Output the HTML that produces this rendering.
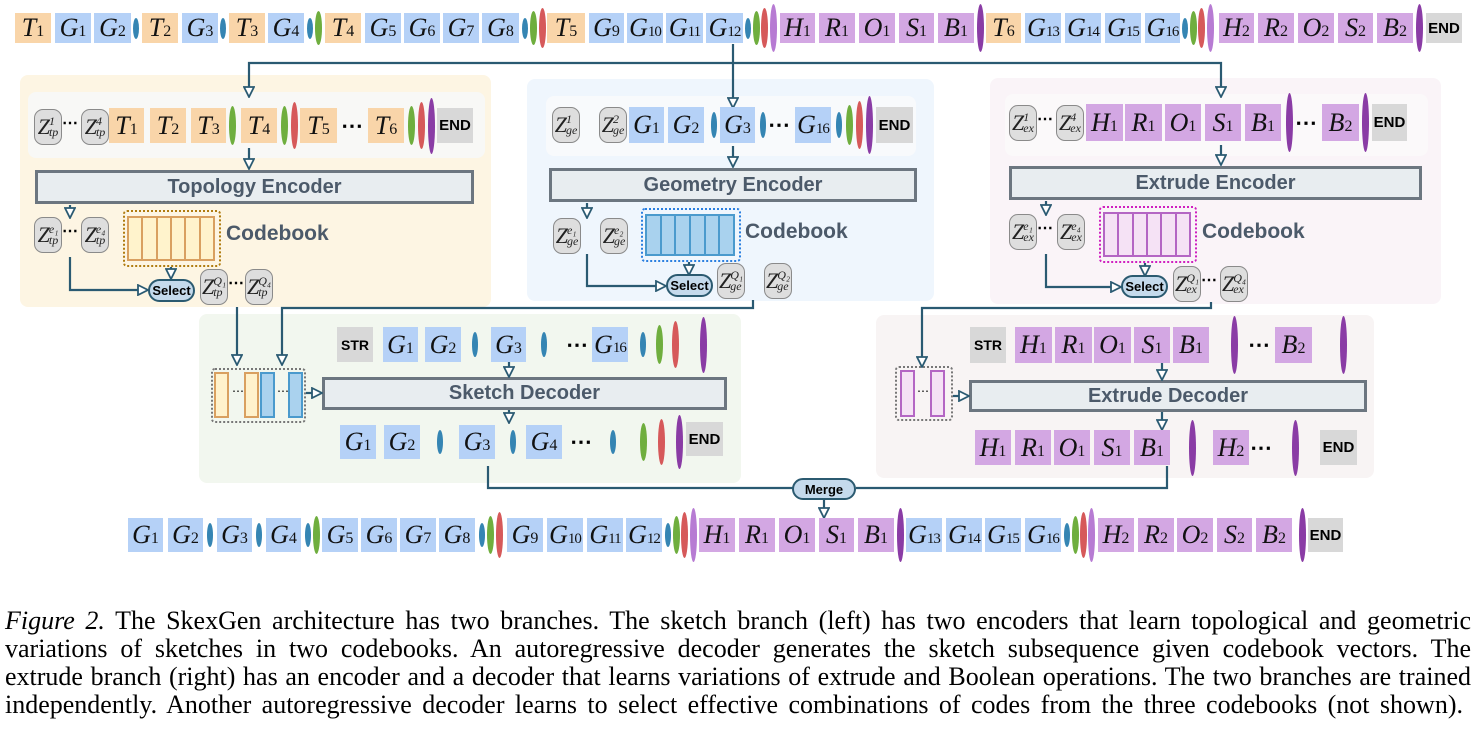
<!DOCTYPE html>
<html><head><meta charset="utf-8"><style>
*{margin:0;padding:0;box-sizing:border-box}
body{width:1478px;height:752px;background:#fff;position:relative;overflow:hidden;font-family:"Liberation Sans",sans-serif}
.a{position:absolute}
.r{position:absolute;left:0;width:1478px}
.r>*{position:absolute;top:0;height:100%}
.b{display:flex;align-items:center;justify-content:center;font:italic 26px "Liberation Serif",serif;color:#111;white-space:nowrap}
.b sub{font-style:normal;font-size:16px;position:relative;top:4px;vertical-align:baseline}
.b sub.d{letter-spacing:-1px;font-size:15px}
.t{background:#f9d5a9}.g{background:#b5d1f7}.p{background:#d3a7e3}
.e{background:#d8d8d8;font:bold 15px "Liberation Sans",sans-serif;font-style:normal;color:#000}
.eb,.eg,.er,.ep,.el{border-radius:50%;width:7px}
.eb{background:#3585b3;top:15%!important;height:70%!important;width:6px}
.eg{background:#6fae3e;top:-6%!important;height:112%!important}
.er{background:#d6595a;top:-18%!important;height:136%!important}
.ep{background:#8a3ca5;top:-30%!important;height:160%!important}
.el{background:#b77bd3;top:-30%!important;height:160%!important}
.dt{font:bold 22px "Liberation Sans",sans-serif;color:#000;display:flex;align-items:center;letter-spacing:1px}
.z{position:absolute;width:28px;height:36px;background:#dedede;border:1.5px solid #8a8a8a;border-radius:9px;display:flex;align-items:center;justify-content:center;font:italic 22px "Liberation Serif",serif;color:#222}
.z .s{display:inline-flex;flex-direction:column;font-size:12px;line-height:11px;margin-left:-1px}
.zd{position:absolute;font:bold 16px "Liberation Sans";color:#000}
.pan{position:absolute;border-radius:8px}
.enc{position:absolute;background:#e8edf0;border:3px solid #6c7680;display:flex;align-items:center;justify-content:center;font:bold 20px "Liberation Sans",sans-serif;color:#4c5a6a}
.cbl{position:absolute;font:bold 21px "Liberation Sans",sans-serif;color:#4c5a6a}
.cb{position:absolute;border-radius:4px;padding:4px}
.cb>div{display:flex;height:100%}
.cb>div>div{flex:1;border:2px solid;margin-left:-2px}
.sel{position:absolute;width:47px;height:23px;border:2px solid #2b5a70;border-radius:12px;background:#c5daec;font:bold 13px "Liberation Sans";display:flex;align-items:center;justify-content:center;color:#000}
.cap{position:absolute;left:5px;width:1466px;font:26px "Liberation Serif",serif;color:#000;text-align:justify;text-align-last:justify;white-space:nowrap;line-height:28px}
</style></head><body>

<div class="pan" style="left:20px;top:75px;width:471px;height:232px;background:#fdf5e3"></div>
<div class="pan" style="left:28px;top:92px;width:457px;height:66px;background:#f8f8f6"></div>
<div class="pan" style="left:527px;top:79px;width:407px;height:222px;background:#eff6fd"></div>
<div class="pan" style="left:546px;top:96px;width:370px;height:60px;background:#f8fafc"></div>
<div class="pan" style="left:990px;top:78px;width:451px;height:226px;background:#faf4f8"></div>
<div class="pan" style="left:1005px;top:94px;width:423px;height:62px;background:#fbf9fa"></div>
<div class="pan" style="left:199px;top:314px;width:542px;height:169px;background:#f2f7ef"></div>
<div class="pan" style="left:876px;top:315px;width:498px;height:163px;background:#f8f4f4"></div>

<div class="enc" style="left:35px;top:170px;width:439px;height:34px">Topology Encoder</div>
<div class="enc" style="left:549px;top:168px;width:368px;height:34px">Geometry Encoder</div>
<div class="enc" style="left:1009px;top:166px;width:413px;height:34px">Extrude Encoder</div>
<div class="enc" style="left:322px;top:377px;width:405px;height:33px">Sketch Decoder</div>
<div class="enc" style="left:969px;top:380px;width:398px;height:32px">Extrude Decoder</div>

<div class="cb" style="left:123px;top:210px;width:98px;height:57px;border:2px dotted #b07c10"><div><div style="background:#fff3cc;border-color:#d9a060"></div><div style="background:#fff3cc;border-color:#d9a060"></div><div style="background:#fff3cc;border-color:#d9a060"></div><div style="background:#fff3cc;border-color:#d9a060"></div><div style="background:#fff3cc;border-color:#d9a060"></div><div style="background:#fff3cc;border-color:#d9a060"></div></div></div>
<div class="cbl" style="left:226px;top:222px">Codebook</div>
<div class="cb" style="left:641px;top:208px;width:100px;height:54px;border:2px dotted #2a7fe0"><div><div style="background:#a9d2ee;border-color:#4a9acd"></div><div style="background:#a9d2ee;border-color:#4a9acd"></div><div style="background:#a9d2ee;border-color:#4a9acd"></div><div style="background:#a9d2ee;border-color:#4a9acd"></div><div style="background:#a9d2ee;border-color:#4a9acd"></div><div style="background:#a9d2ee;border-color:#4a9acd"></div></div></div>
<div class="cbl" style="left:745px;top:220px">Codebook</div>
<div class="cb" style="left:1099px;top:206px;width:98px;height:57px;border:2px dotted #d020c0"><div><div style="background:#f5e2f5;border-color:#b466c4"></div><div style="background:#f5e2f5;border-color:#b466c4"></div><div style="background:#f5e2f5;border-color:#b466c4"></div><div style="background:#f5e2f5;border-color:#b466c4"></div><div style="background:#f5e2f5;border-color:#b466c4"></div><div style="background:#f5e2f5;border-color:#b466c4"></div></div></div>
<div class="cbl" style="left:1202px;top:220px">Codebook</div>

<div class="a" style="left:211px;top:368px;width:95px;height:55px;border:2px dotted #777;border-radius:4px"></div>
<div class="a" style="left:214px;top:372px;width:15px;height:46px;background:#fff2cc;border:2.5px solid #d9a060"></div>
<div class="a" style="left:244px;top:372px;width:15px;height:46px;background:#fff2cc;border:2.5px solid #d9a060"></div>
<div class="a" style="left:260px;top:372px;width:15px;height:46px;background:#aad2ee;border:2.5px solid #4a9acd"></div>
<div class="a" style="left:288px;top:372px;width:15px;height:46px;background:#aad2ee;border:2.5px solid #4a9acd"></div>
<div class="a" style="left:232px;top:384px;font-size:12px">⋯</div>
<div class="a" style="left:277px;top:384px;font-size:12px">⋯</div>
<div class="a" style="left:895px;top:366px;width:58px;height:55px;border:2px dotted #777;border-radius:4px"></div>
<div class="a" style="left:900px;top:370px;width:15px;height:47px;background:#f5e2f5;border:2.5px solid #b466c4"></div>
<div class="a" style="left:930px;top:370px;width:15px;height:47px;background:#f5e2f5;border:2.5px solid #b466c4"></div>
<div class="a" style="left:917px;top:384px;font-size:12px">⋯</div>

<svg class="a" style="left:0;top:0" width="1478" height="752">
<defs><marker id="m" markerUnits="userSpaceOnUse" markerWidth="12" markerHeight="12" refX="10" refY="6" orient="auto"><path d="M1,1 L11,6 L1,11 z" fill="#fff" stroke="#2a5a72" stroke-width="1.8"/></marker></defs>
<g fill="none" stroke="#2a5a72" stroke-width="2.2" marker-end="url(#m)">
<path d="M733,44 V107"/><path d="M733,63 H249 V96"/><path d="M733,63 H1221 V96"/>
<path d="M249,148 V168"/><path d="M733,146 V166"/><path d="M1221,145 V164"/>
<path d="M70,205 V217"/><path d="M587,203 V217"/><path d="M1046,201 V214"/>
<path d="M70,257 V290 H147"/><path d="M587,254 V286 H665"/><path d="M1046,254 V287 H1120"/>
<path d="M171,267 V278"/><path d="M689,262 V274"/><path d="M1145,263 V275"/>
<path d="M237,307 V364"/><path d="M753,300 V308 H282 V364"/><path d="M1211,302 V308 H922 V366"/>
<path d="M306,393 H321"/><path d="M953,396 H968"/>
<path d="M509,362 V376"/><path d="M509,410 V422"/><path d="M1162,363 V379"/><path d="M1162,412 V429"/>
<path d="M824,500 V517"/>
</g>
<path d="M488,466 V488 H793 M856,488 H1167 V466" fill="none" stroke="#2a5a72" stroke-width="2.2"/>
</svg>
<div class="sel" style="left:148px;top:279px">Select</div>
<div class="sel" style="left:666px;top:274px">Select</div>
<div class="sel" style="left:1121px;top:275px">Select</div>
<div class="sel" style="left:792px;top:478px;width:64px;height:22px">Merge</div>

<div class="z" style="left:34px;top:109px"><i>Z</i><span class="s"><i>1</i><i>tp</i></span></div>
<div class="zd" style="left:62px;top:113px">⋯</div>
<div class="z" style="left:81px;top:109px"><i>Z</i><span class="s"><i>4</i><i>tp</i></span></div>
<div class="z" style="left:34px;top:217px"><i>Z</i><span class="s"><i>e₁</i><i>tp</i></span></div>
<div class="zd" style="left:62px;top:221px">⋯</div>
<div class="z" style="left:81px;top:217px"><i>Z</i><span class="s"><i>e₄</i><i>tp</i></span></div>
<div class="z" style="left:200px;top:269px"><i>Z</i><span class="s"><i>Q₁</i><i>tp</i></span></div>
<div class="zd" style="left:228px;top:273px">⋯</div>
<div class="z" style="left:245px;top:269px"><i>Z</i><span class="s"><i>Q₄</i><i>tp</i></span></div>

<div class="z" style="left:552px;top:107px"><i>Z</i><span class="s"><i>1</i><i>ge</i></span></div>
<div class="z" style="left:599px;top:107px"><i>Z</i><span class="s"><i>2</i><i>ge</i></span></div>
<div class="z" style="left:553px;top:218px"><i>Z</i><span class="s"><i>e₁</i><i>ge</i></span></div>
<div class="z" style="left:600px;top:218px"><i>Z</i><span class="s"><i>e₂</i><i>ge</i></span></div>
<div class="z" style="left:717px;top:263px"><i>Z</i><span class="s"><i>Q₁</i><i>ge</i></span></div>
<div class="z" style="left:764px;top:263px"><i>Z</i><span class="s"><i>Q₂</i><i>ge</i></span></div>

<div class="z" style="left:1009px;top:105px"><i>Z</i><span class="s"><i>1</i><i>ex</i></span></div>
<div class="zd" style="left:1037px;top:109px">⋯</div>
<div class="z" style="left:1056px;top:105px"><i>Z</i><span class="s"><i>4</i><i>ex</i></span></div>
<div class="z" style="left:1009px;top:214px"><i>Z</i><span class="s"><i>e₁</i><i>ex</i></span></div>
<div class="zd" style="left:1037px;top:218px">⋯</div>
<div class="z" style="left:1057px;top:214px"><i>Z</i><span class="s"><i>e₄</i><i>ex</i></span></div>
<div class="z" style="left:1173px;top:266px"><i>Z</i><span class="s"><i>Q₁</i><i>ex</i></span></div>
<div class="zd" style="left:1201px;top:270px">⋯</div>
<div class="z" style="left:1220px;top:266px"><i>Z</i><span class="s"><i>Q₄</i><i>ex</i></span></div>

<div class="r" style="top:13px;height:30px">
<div class="b t" style="left:15px;width:36px"><i>T</i><sub>1</sub></div>
<div class="b g" style="left:55px;width:36px"><i>G</i><sub>1</sub></div>
<div class="b g" style="left:94px;width:37px"><i>G</i><sub>2</sub></div>
<div class="eb" style="left:133px"></div>
<div class="b t" style="left:142px;width:36px"><i>T</i><sub>2</sub></div>
<div class="b g" style="left:182px;width:36px"><i>G</i><sub>3</sub></div>
<div class="eb" style="left:220px"></div>
<div class="b t" style="left:229px;width:36px"><i>T</i><sub>3</sub></div>
<div class="b g" style="left:268px;width:36px"><i>G</i><sub>4</sub></div>
<div class="eb" style="left:307px"></div><div class="eg" style="left:315px"></div>
<div class="b t" style="left:325px;width:36px"><i>T</i><sub>4</sub></div>
<div class="b g" style="left:365px;width:36px"><i>G</i><sub>5</sub></div>
<div class="b g" style="left:404px;width:36px"><i>G</i><sub>6</sub></div>
<div class="b g" style="left:443px;width:36px"><i>G</i><sub>7</sub></div>
<div class="b g" style="left:482px;width:37px"><i>G</i><sub>8</sub></div>
<div class="eb" style="left:522px"></div><div class="eg" style="left:530px"></div><div class="er" style="left:539px"></div>
<div class="b t" style="left:547px;width:38px"><i>T</i><sub>5</sub></div>
<div class="b g" style="left:589px;width:35px"><i>G</i><sub>9</sub></div>
<div class="b g" style="left:627px;width:36px"><i>G</i><sub class="d">10</sub></div>
<div class="b g" style="left:666px;width:37px"><i>G</i><sub class="d">11</sub></div>
<div class="b g" style="left:706px;width:37px"><i>G</i><sub class="d">12</sub></div>
<div class="eb" style="left:745px"></div><div class="eg" style="left:753px"></div><div class="er" style="left:761px"></div><div class="el" style="left:770px"></div>
<div class="b p" style="left:780px;width:35px"><i>H</i><sub>1</sub></div>
<div class="b p" style="left:819px;width:36px"><i>R</i><sub>1</sub></div>
<div class="b p" style="left:859px;width:36px"><i>O</i><sub>1</sub></div>
<div class="b p" style="left:899px;width:35px"><i>S</i><sub>1</sub></div>
<div class="b p" style="left:938px;width:36px"><i>B</i><sub>1</sub></div>
<div class="ep" style="left:977px"></div>
<div class="b t" style="left:986px;width:35px"><i>T</i><sub>6</sub></div>
<div class="b g" style="left:1025px;width:36px"><i>G</i><sub class="d">13</sub></div>
<div class="b g" style="left:1065px;width:36px"><i>G</i><sub class="d">14</sub></div>
<div class="b g" style="left:1105px;width:36px"><i>G</i><sub class="d">15</sub></div>
<div class="b g" style="left:1145px;width:35px"><i>G</i><sub class="d">16</sub></div>
<div class="eb" style="left:1182px"></div><div class="eg" style="left:1190px"></div><div class="er" style="left:1198px"></div><div class="el" style="left:1207px"></div>
<div class="b p" style="left:1219px;width:35px"><i>H</i><sub>2</sub></div>
<div class="b p" style="left:1258px;width:36px"><i>R</i><sub>2</sub></div>
<div class="b p" style="left:1298px;width:36px"><i>O</i><sub>2</sub></div>
<div class="b p" style="left:1338px;width:35px"><i>S</i><sub>2</sub></div>
<div class="b p" style="left:1377px;width:36px"><i>B</i><sub>2</sub></div>
<div class="ep" style="left:1416px"></div>
<div class="b e" style="left:1426px;width:36px">END</div>
</div>

<div class="r" style="top:108px;height:35px">
<div class="b t" style="left:109px;width:35px"><i>T</i><sub>1</sub></div>
<div class="b t" style="left:150px;width:36px"><i>T</i><sub>2</sub></div>
<div class="b t" style="left:191px;width:35px"><i>T</i><sub>3</sub></div>
<div class="eg" style="left:229px"></div>
<div class="b t" style="left:241px;width:36px"><i>T</i><sub>4</sub></div>
<div class="eg" style="left:281px"></div><div class="er" style="left:291px"></div>
<div class="b t" style="left:300px;width:37px"><i>T</i><sub>5</sub></div>
<div class="dt" style="left:341px">⋯</div>
<div class="b t" style="left:368px;width:36px"><i>T</i><sub>6</sub></div>
<div class="eg" style="left:408px"></div><div class="er" style="left:418px"></div><div class="ep" style="left:428px"></div>
<div class="b e" style="left:437px;width:36px">END</div>
</div>

<div class="r" style="top:107px;height:36px">
<div class="b g" style="left:629px;width:35px"><i>G</i><sub>1</sub></div>
<div class="b g" style="left:668px;width:36px"><i>G</i><sub>2</sub></div>
<div class="eb" style="left:711px"></div>
<div class="b g" style="left:720px;width:35px"><i>G</i><sub>3</sub></div>
<div class="eb" style="left:760px"></div>
<div class="dt" style="left:768px">⋯</div>
<div class="b g" style="left:795px;width:36px"><i>G</i><sub class="d">16</sub></div>
<div class="eb" style="left:836px"></div><div class="eg" style="left:846px"></div><div class="er" style="left:856px"></div><div class="ep" style="left:866px"></div>
<div class="b e" style="left:876px;width:37px">END</div>
</div>

<div class="r" style="top:104px;height:37px">
<div class="b p" style="left:1086px;width:37px"><i>H</i><sub>1</sub></div>
<div class="b p" style="left:1125px;width:37px"><i>R</i><sub>1</sub></div>
<div class="b p" style="left:1165px;width:36px"><i>O</i><sub>1</sub></div>
<div class="b p" style="left:1205px;width:36px"><i>S</i><sub>1</sub></div>
<div class="b p" style="left:1245px;width:36px"><i>B</i><sub>1</sub></div>
<div class="ep" style="left:1286px"></div>
<div class="dt" style="left:1295px">⋯</div>
<div class="b p" style="left:1322px;width:37px"><i>B</i><sub>2</sub></div>
<div class="ep" style="left:1362px"></div>
<div class="b e" style="left:1372px;width:35px">END</div>
</div>

<div class="r" style="top:327px;height:35px">
<div class="b e" style="left:337px;width:36px;font-size:14px">STR</div>
<div class="b g" style="left:383px;width:35px"><i>G</i><sub>1</sub></div>
<div class="b g" style="left:425px;width:36px"><i>G</i><sub>2</sub></div>
<div class="eb" style="left:472px"></div>
<div class="b g" style="left:491px;width:35px"><i>G</i><sub>3</sub></div>
<div class="eb" style="left:541px"></div>
<div class="dt" style="left:566px">⋯</div>
<div class="b g" style="left:592px;width:36px"><i>G</i><sub class="d">16</sub></div>
<div class="eb" style="left:640px"></div><div class="eg" style="left:656px"></div><div class="er" style="left:672px"></div><div class="ep" style="left:700px"></div>
</div>
<div class="r" style="top:425px;height:34px">
<div class="b g" style="left:340px;width:36px"><i>G</i><sub>1</sub></div>
<div class="b g" style="left:384px;width:36px"><i>G</i><sub>2</sub></div>
<div class="eb" style="left:437px"></div>
<div class="b g" style="left:459px;width:36px"><i>G</i><sub>3</sub></div>
<div class="eb" style="left:510px"></div>
<div class="b g" style="left:526px;width:36px"><i>G</i><sub>4</sub></div>
<div class="dt" style="left:570px">⋯</div>
<div class="eb" style="left:610px"></div><div class="eg" style="left:640px"></div><div class="er" style="left:658px"></div><div class="ep" style="left:676px"></div>
<div class="b e" style="left:686px;width:37px;top:-3px!important">END</div>
</div>

<div class="r" style="top:327px;height:36px">
<div class="b e" style="left:970px;width:36px;font-size:14px">STR</div>
<div class="b p" style="left:1015px;width:37px"><i>H</i><sub>1</sub></div>
<div class="b p" style="left:1055px;width:37px"><i>R</i><sub>1</sub></div>
<div class="b p" style="left:1094px;width:37px"><i>O</i><sub>1</sub></div>
<div class="b p" style="left:1134px;width:36px"><i>S</i><sub>1</sub></div>
<div class="b p" style="left:1173px;width:36px"><i>B</i><sub>1</sub></div>
<div class="ep" style="left:1231px"></div>
<div class="dt" style="left:1248px">⋯</div>
<div class="b p" style="left:1275px;width:37px"><i>B</i><sub>2</sub></div>
<div class="ep" style="left:1340px"></div>
</div>
<div class="r" style="top:430px;height:35px">
<div class="b p" style="left:975px;width:36px"><i>H</i><sub>1</sub></div>
<div class="b p" style="left:1015px;width:36px"><i>R</i><sub>1</sub></div>
<div class="b p" style="left:1054px;width:36px"><i>O</i><sub>1</sub></div>
<div class="b p" style="left:1094px;width:36px"><i>S</i><sub>1</sub></div>
<div class="b p" style="left:1134px;width:36px"><i>B</i><sub>1</sub></div>
<div class="ep" style="left:1189px"></div>
<div class="b p" style="left:1213px;width:36px"><i>H</i><sub>2</sub></div>
<div class="dt" style="left:1250px">⋯</div>
<div class="ep" style="left:1292px"></div>
<div class="b e" style="left:1320px;width:37px">END</div>
</div>

<div class="r" style="top:518px;height:34px">
<div class="b g" style="left:128px;width:35px"><i>G</i><sub>1</sub></div>
<div class="b g" style="left:168px;width:35px"><i>G</i><sub>2</sub></div>
<div class="eb" style="left:207px"></div>
<div class="b g" style="left:217px;width:35px"><i>G</i><sub>3</sub></div>
<div class="eb" style="left:256px"></div>
<div class="b g" style="left:266px;width:35px"><i>G</i><sub>4</sub></div>
<div class="eb" style="left:305px"></div><div class="eg" style="left:313px"></div>
<div class="b g" style="left:322px;width:36px"><i>G</i><sub>5</sub></div>
<div class="b g" style="left:361px;width:36px"><i>G</i><sub>6</sub></div>
<div class="b g" style="left:400px;width:36px"><i>G</i><sub>7</sub></div>
<div class="b g" style="left:439px;width:36px"><i>G</i><sub>8</sub></div>
<div class="eb" style="left:479px"></div><div class="eg" style="left:487px"></div><div class="er" style="left:496px"></div>
<div class="b g" style="left:507px;width:36px"><i>G</i><sub>9</sub></div>
<div class="b g" style="left:547px;width:36px"><i>G</i><sub class="d">10</sub></div>
<div class="b g" style="left:587px;width:36px"><i>G</i><sub class="d">11</sub></div>
<div class="b g" style="left:626px;width:36px"><i>G</i><sub class="d">12</sub></div>
<div class="eb" style="left:665px"></div><div class="eg" style="left:673px"></div><div class="er" style="left:681px"></div><div class="el" style="left:690px"></div>
<div class="b p" style="left:699px;width:36px"><i>H</i><sub>1</sub></div>
<div class="b p" style="left:739px;width:36px"><i>R</i><sub>1</sub></div>
<div class="b p" style="left:779px;width:36px"><i>O</i><sub>1</sub></div>
<div class="b p" style="left:819px;width:35px"><i>S</i><sub>1</sub></div>
<div class="b p" style="left:858px;width:36px"><i>B</i><sub>1</sub></div>
<div class="ep" style="left:897px"></div>
<div class="b g" style="left:906px;width:36px"><i>G</i><sub class="d">13</sub></div>
<div class="b g" style="left:946px;width:36px"><i>G</i><sub class="d">14</sub></div>
<div class="b g" style="left:985px;width:36px"><i>G</i><sub class="d">15</sub></div>
<div class="b g" style="left:1025px;width:36px"><i>G</i><sub class="d">16</sub></div>
<div class="eb" style="left:1064px"></div><div class="eg" style="left:1072px"></div><div class="er" style="left:1080px"></div><div class="el" style="left:1088px"></div>
<div class="b p" style="left:1098px;width:36px"><i>H</i><sub>2</sub></div>
<div class="b p" style="left:1138px;width:36px"><i>R</i><sub>2</sub></div>
<div class="b p" style="left:1177px;width:36px"><i>O</i><sub>2</sub></div>
<div class="b p" style="left:1217px;width:35px"><i>S</i><sub>2</sub></div>
<div class="b p" style="left:1256px;width:36px"><i>B</i><sub>2</sub></div>
<div class="ep" style="left:1299px"></div>
<div class="b e" style="left:1308px;width:35px">END</div>
</div>

<div class="cap" style="top:607px"><i>Figure 2.</i> The SkexGen architecture has two branches. The sketch branch (left) has two encoders that learn topological and geometric</div>
<div class="cap" style="top:635px">variations of sketches in two codebooks. An autoregressive decoder generates the sketch subsequence given codebook vectors. The</div>
<div class="cap" style="top:663px">extrude branch (right) has an encoder and a decoder that learns variations of extrude and Boolean operations. The two branches are trained</div>
<div class="cap" style="top:691px;width:1458px">independently. Another autoregressive decoder learns to select effective combinations of codes from the three codebooks (not shown).</div>
</body></html>
